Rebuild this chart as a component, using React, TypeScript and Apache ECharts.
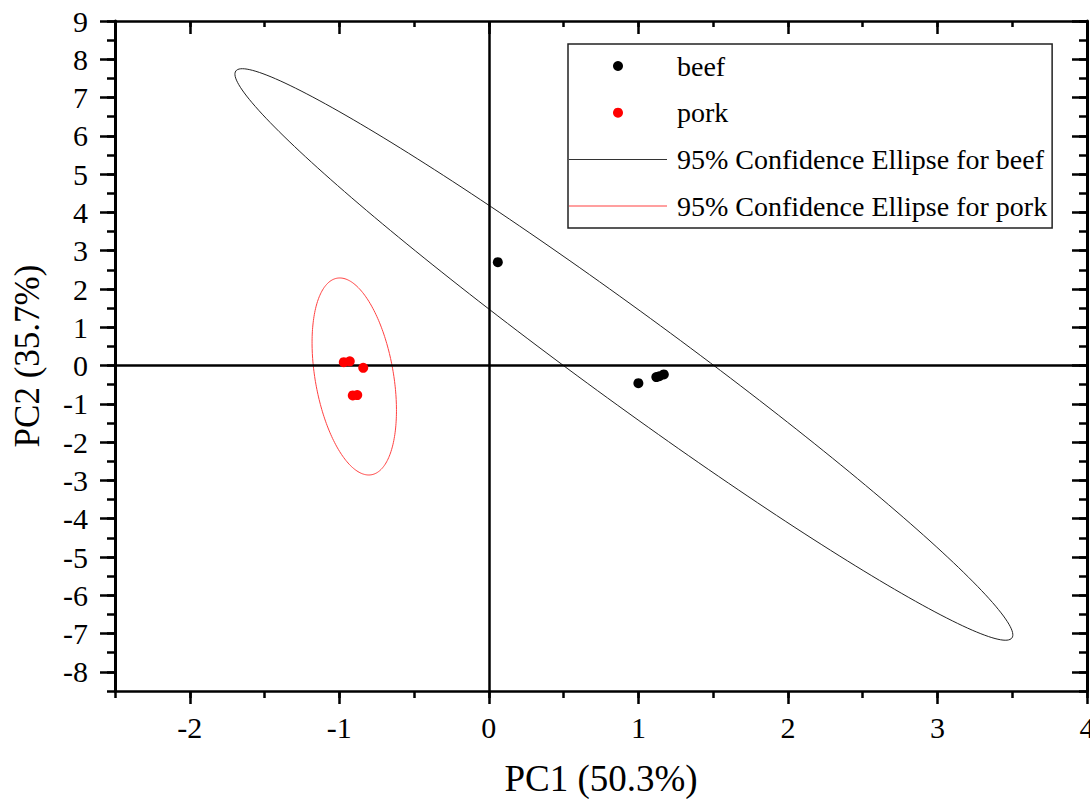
import React, { useEffect, useRef } from "react";
import * as echarts from "echarts";

// ---- data ----
const BEEF_POINTS: [number, number][] = [
  [0.06, 2.7],
  [1.0, -0.46],
  [1.12, -0.3],
  [1.14, -0.28],
  [1.17, -0.23],
];
const PORK_POINTS: [number, number][] = [
  [-0.97, 0.09],
  [-0.93, 0.11],
  [-0.84, -0.06],
  [-0.91, -0.78],
  [-0.88, -0.77],
];
// ellipse: [centerX, centerY, tipOfDiameter1X, tipOfDiameter1Y, tipOfConjugateX, tipOfConjugateY]
const BEEF_ELLIPSE: number[] = [0.903, 0.29, 3.498, -7.114, 1.08, 1.233];
const PORK_ELLIPSE: number[] = [-0.9, -0.285, -0.997, 2.288, -0.635, -0.285];

const X_TICKS = [-2, -1, 0, 1, 2, 3, 4];
const Y_TICKS = [-8, -7, -6, -5, -4, -3, -2, -1, 0, 1, 2, 3, 4, 5, 6, 7, 8, 9];
const X_MIN = -2.5, X_MAX = 4;
const Y_MIN = -8.5, Y_MAX = 9;

const NAMES = {
  beef: "beef",
  pork: "pork",
  beefEll: "95% Confidence Ellipse for beef",
  porkEll: "95% Confidence Ellipse for pork",
};

const FONT = "Liberation Serif";
const BLACK = "#000";
const RED = "#ff0000";
const RED_LINE = "#ff4040";

function ellipseRender(color: string) {
  return (params: any, api: any) => {
    const c = api.coord([api.value(0), api.value(1)]);
    const a = api.coord([api.value(2), api.value(3)]);
    const b = api.coord([api.value(4), api.value(5)]);
    const u = [a[0] - c[0], a[1] - c[1]];
    const v = [b[0] - c[0], b[1] - c[1]];
    const pts: number[][] = [];
    const n = 240;
    for (let i = 0; i <= n; i++) {
      const t = (i / n) * Math.PI * 2;
      pts.push([
        c[0] + u[0] * Math.cos(t) + v[0] * Math.sin(t),
        c[1] + u[1] * Math.cos(t) + v[1] * Math.sin(t),
      ]);
    }
    return {
      type: "polyline",
      shape: { points: pts },
      style: { stroke: color, lineWidth: 1, fill: null },
    };
  };
}

function xAxes() {
  const base = { type: "value", min: X_MIN, max: X_MAX, interval: 0.5, splitLine: { show: false } };
  return [
    {
      ...base,
      position: "bottom",
      axisLine: { show: true, onZero: false, lineStyle: { color: BLACK, width: 2.5 } },
      axisTick: { show: true, length: 7, lineStyle: { color: BLACK, width: 2.5 } },
      axisLabel: { show: false },
    },
    {
      ...base,
      position: "bottom",
      axisLine: { show: false, onZero: false },
      axisTick: { show: true, customValues: X_TICKS, length: 13, lineStyle: { color: BLACK, width: 2.5 } },
      axisLabel: { show: true, customValues: X_TICKS, fontSize: 30, fontFamily: FONT, color: BLACK, margin: 21 },
      name: "PC1 (50.3%)",
      nameLocation: "middle",
      nameGap: 69,
      nameTextStyle: { fontSize: 37, fontFamily: FONT, color: BLACK },
    },
    {
      ...base,
      position: "top",
      axisLine: { show: true, onZero: false, lineStyle: { color: BLACK, width: 2.5 } },
      axisTick: { show: true, inside: true, length: 6, lineStyle: { color: BLACK, width: 2.5 } },
      axisLabel: { show: false },
    },
    {
      ...base,
      position: "top",
      axisLine: { show: false, onZero: false },
      axisTick: { show: true, inside: true, customValues: X_TICKS, length: 13, lineStyle: { color: BLACK, width: 2.5 } },
      axisLabel: { show: false },
    },
  ];
}

function yAxes() {
  const base = { type: "value", min: Y_MIN, max: Y_MAX, interval: 0.5, splitLine: { show: false } };
  return [
    {
      ...base,
      position: "left",
      axisLine: { show: true, onZero: false, lineStyle: { color: BLACK, width: 3 } },
      axisTick: { show: true, length: 8, lineStyle: { color: BLACK, width: 2.5 } },
      axisLabel: { show: false },
    },
    {
      ...base,
      position: "left",
      axisLine: { show: false, onZero: false },
      axisTick: { show: true, customValues: Y_TICKS, length: 15, lineStyle: { color: BLACK, width: 2.5 } },
      axisLabel: { show: true, customValues: Y_TICKS, fontSize: 30, fontFamily: FONT, color: BLACK, margin: 27 },
      name: "PC2 (35.7%)",
      nameLocation: "middle",
      nameGap: 70,
      nameTextStyle: { fontSize: 35, fontFamily: FONT, color: BLACK },
    },
    {
      ...base,
      position: "right",
      axisLine: { show: true, onZero: false, lineStyle: { color: BLACK, width: 3 } },
      axisTick: { show: true, inside: true, length: 8, lineStyle: { color: BLACK, width: 2.5 } },
      axisLabel: { show: false },
    },
    {
      ...base,
      position: "right",
      axisLine: { show: false, onZero: false },
      axisTick: { show: true, inside: true, customValues: Y_TICKS, length: 15, lineStyle: { color: BLACK, width: 2.5 } },
      axisLabel: { show: false },
    },
  ];
}

export default function App() {
  const ref = useRef<HTMLDivElement>(null);
  useEffect(() => {
    if (!ref.current) return;
    const chart = echarts.init(ref.current, null, { renderer: "svg" });
    const lineIcon = "path://M0 0H100V1H0Z";
    const option: any = {
      animation: false,
      backgroundColor: "#fff",
      grid: { left: 115, right: 3, top: 21, bottom: 108, containLabel: false, outerBoundsMode: "none" },
      xAxis: xAxes(),
      yAxis: yAxes(),
      legend: {
        orient: "vertical",
        left: 568,
        top: 44,
        itemWidth: 98,
        itemHeight: 10,
        itemGap: 18.7,
        padding: [8, 5, 8, 1],
        borderColor: "#222",
        borderWidth: 1.5,
        backgroundColor: "#fff",
        selectedMode: false,
        textStyle: { fontSize: 28, fontFamily: FONT, color: BLACK, padding: [0, 0, 0, 5] },
        data: [
          { name: NAMES.beef, icon: "circle", itemStyle: { color: BLACK } },
          { name: NAMES.pork, icon: "circle", itemStyle: { color: RED } },
          { name: NAMES.beefEll, icon: lineIcon, itemStyle: { color: "#333" } },
          { name: NAMES.porkEll, icon: lineIcon, itemStyle: { color: RED_LINE } },
        ],
      },
      series: [
        {
          name: NAMES.beef,
          type: "scatter",
          xAxisIndex: 0,
          yAxisIndex: 0,
          symbol: "circle",
          symbolSize: 10,
          itemStyle: { color: BLACK, opacity: 1 },
          data: BEEF_POINTS,
          z: 5,
          markLine: {
            silent: true,
            symbol: ["none", "none"],
            label: { show: false },
            lineStyle: { color: BLACK, width: 2.5, type: "solid" },
            emphasis: { disabled: true },
            data: [{ xAxis: 0 }, { yAxis: 0 }],
          },
        },
        {
          name: NAMES.pork,
          type: "scatter",
          xAxisIndex: 0,
          yAxisIndex: 0,
          symbol: "circle",
          symbolSize: 10,
          itemStyle: { color: RED, opacity: 1 },
          data: PORK_POINTS,
          z: 5,
        },
        {
          name: NAMES.beefEll,
          type: "custom",
          xAxisIndex: 0,
          yAxisIndex: 0,
          itemStyle: { color: "#333" },
          encode: { x: [0, 2, 4], y: [1, 3, 5] },
          renderItem: ellipseRender("#222"),
          data: [BEEF_ELLIPSE],
          z: 3,
        },
        {
          name: NAMES.porkEll,
          type: "custom",
          xAxisIndex: 0,
          yAxisIndex: 0,
          itemStyle: { color: RED_LINE },
          encode: { x: [0, 2, 4], y: [1, 3, 5] },
          renderItem: ellipseRender(RED_LINE),
          data: [PORK_ELLIPSE],
          z: 3,
        },
      ],
    };
    chart.setOption(option);
    return () => chart.dispose();
  }, []);
  return (
    <div
      ref={ref}
      style={{ position: "fixed", left: 0, top: 0, width: 1090, height: 799, background: "#fff" }}
    />
  );
}
